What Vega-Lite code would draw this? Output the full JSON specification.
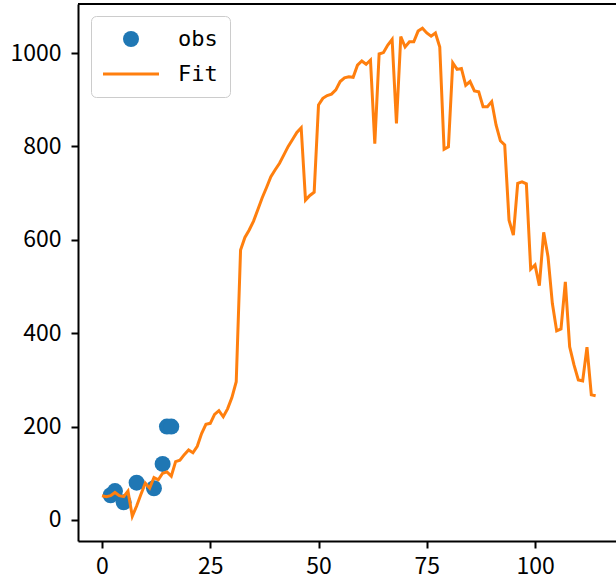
{
  "$schema": "https://vega.github.io/schema/vega-lite/v6.json",
  "width": 538,
  "height": 537,
  "autosize": {"type": "none"},
  "padding": {"left": 78, "top": 4, "right": 0, "bottom": 47},
  "background": "white",
  "config": {
    "view": {"stroke": null},
    "axis": {
      "domainColor": "black",
      "domainWidth": 2,
      "tickColor": "black",
      "tickWidth": 2,
      "tickSize": 7,
      "labelFont": "Noto Sans CJK SC",
      "labelFontSize": 23,
      "labelColor": "black",
      "grid": false,
      "title": null
    }
  },
  "datasets": {
    "obs": [
      {"x": 2, "y": 53, "series": "obs"},
      {"x": 3, "y": 62, "series": "obs"},
      {"x": 5, "y": 38, "series": "obs"},
      {"x": 8, "y": 80, "series": "obs"},
      {"x": 12, "y": 68, "series": "obs"},
      {"x": 14, "y": 120, "series": "obs"},
      {"x": 15, "y": 200, "series": "obs"},
      {"x": 16, "y": 200, "series": "obs"}
    ],
    "fit": [
      {"x": 0, "y": 52}, {"x": 1, "y": 50}, {"x": 2, "y": 52}, {"x": 3, "y": 59}, {"x": 4, "y": 52},
      {"x": 5, "y": 50}, {"x": 6, "y": 62}, {"x": 7, "y": 8}, {"x": 8, "y": 30}, {"x": 9, "y": 55},
      {"x": 10, "y": 79}, {"x": 11, "y": 68}, {"x": 12, "y": 91}, {"x": 13, "y": 86}, {"x": 14, "y": 100},
      {"x": 15, "y": 103}, {"x": 16, "y": 94}, {"x": 17, "y": 125}, {"x": 18, "y": 128}, {"x": 19, "y": 140},
      {"x": 20, "y": 150}, {"x": 21, "y": 144}, {"x": 22, "y": 158}, {"x": 23, "y": 185}, {"x": 24, "y": 205},
      {"x": 25, "y": 207}, {"x": 26, "y": 226}, {"x": 27, "y": 234}, {"x": 28, "y": 221}, {"x": 29, "y": 238},
      {"x": 30, "y": 262}, {"x": 31, "y": 296}, {"x": 32, "y": 578}, {"x": 33, "y": 605}, {"x": 34, "y": 621},
      {"x": 35, "y": 640}, {"x": 36, "y": 665}, {"x": 37, "y": 690}, {"x": 38, "y": 712}, {"x": 39, "y": 735},
      {"x": 40, "y": 750}, {"x": 41, "y": 764}, {"x": 42, "y": 782}, {"x": 43, "y": 800}, {"x": 44, "y": 815},
      {"x": 45, "y": 830}, {"x": 46, "y": 840}, {"x": 47, "y": 685}, {"x": 48, "y": 695}, {"x": 49, "y": 702},
      {"x": 50, "y": 889}, {"x": 51, "y": 903}, {"x": 52, "y": 909}, {"x": 53, "y": 912}, {"x": 54, "y": 921},
      {"x": 55, "y": 939}, {"x": 56, "y": 947}, {"x": 57, "y": 949}, {"x": 58, "y": 948}, {"x": 59, "y": 974},
      {"x": 60, "y": 983}, {"x": 61, "y": 976}, {"x": 62, "y": 985}, {"x": 63, "y": 806}, {"x": 64, "y": 998},
      {"x": 65, "y": 1001}, {"x": 66, "y": 1017}, {"x": 67, "y": 1029}, {"x": 68, "y": 849}, {"x": 69, "y": 1035},
      {"x": 70, "y": 1013}, {"x": 71, "y": 1024}, {"x": 72, "y": 1024}, {"x": 73, "y": 1047}, {"x": 74, "y": 1053},
      {"x": 75, "y": 1043}, {"x": 76, "y": 1036}, {"x": 77, "y": 1043}, {"x": 78, "y": 1013}, {"x": 79, "y": 794},
      {"x": 80, "y": 799}, {"x": 81, "y": 979}, {"x": 82, "y": 965}, {"x": 83, "y": 967}, {"x": 84, "y": 931},
      {"x": 85, "y": 939}, {"x": 86, "y": 919}, {"x": 87, "y": 917}, {"x": 88, "y": 885}, {"x": 89, "y": 885},
      {"x": 90, "y": 896}, {"x": 91, "y": 846}, {"x": 92, "y": 812}, {"x": 93, "y": 803}, {"x": 94, "y": 642},
      {"x": 95, "y": 610}, {"x": 96, "y": 721}, {"x": 97, "y": 724}, {"x": 98, "y": 720}, {"x": 99, "y": 537},
      {"x": 100, "y": 546}, {"x": 101, "y": 502}, {"x": 102, "y": 616}, {"x": 103, "y": 564}, {"x": 104, "y": 464},
      {"x": 105, "y": 405}, {"x": 106, "y": 409}, {"x": 107, "y": 510}, {"x": 108, "y": 371}, {"x": 109, "y": 332},
      {"x": 110, "y": 300}, {"x": 111, "y": 298}, {"x": 112, "y": 370}, {"x": 113, "y": 268}, {"x": 114, "y": 266}
    ]
  },
  "layer": [
    {
      "data": {"name": "obs"},
      "mark": {"type": "point", "filled": true, "opacity": 1, "size": 256},
      "encoding": {
        "x": {"field": "x", "type": "quantitative", "scale": {"domain": [-5.54, 118.7], "nice": false, "zero": false}, "axis": {"values": [0, 25, 50, 75, 100], "labelPadding": 7}},
        "y": {"field": "y", "type": "quantitative", "scale": {"domain": [-45, 1105], "nice": false, "zero": false}, "axis": {"values": [0, 200, 400, 600, 800, 1000], "format": "d", "labelPadding": 10}},
        "color": {
          "field": "series", "type": "nominal",
          "scale": {"domain": ["obs", "Fit"], "range": ["#1f77b4", "#ff7f0e"]},
          "legend": {"orient": "none", "legendX": 13, "legendY": 12, "title": null, "fillColor": "white", "strokeColor": "#cccccc", "cornerRadius": 5, "padding": 12, "symbolSize": 256, "symbolOffset": 17, "labelOffset": 36, "labelFont": "DejaVu Sans Mono", "labelFontSize": 22, "labelColor": "black", "rowPadding": 13, "symbolOpacity": 1, "symbolStrokeWidth": 0}
        },
        "shape": {
          "field": "series", "type": "nominal",
          "scale": {"domain": ["obs", "Fit"], "range": ["circle", "M-3.5,-0.19H3.5V0.19H-3.5Z"]},
          "legend": {"orient": "none", "legendX": 13, "legendY": 12, "title": null, "fillColor": "white", "strokeColor": "#cccccc", "cornerRadius": 5, "padding": 12, "symbolSize": 256, "symbolOffset": 17, "labelOffset": 36, "labelFont": "DejaVu Sans Mono", "labelFontSize": 22, "labelColor": "black", "rowPadding": 13, "symbolOpacity": 1, "symbolStrokeWidth": 0}
        }
      }
    },
    {
      "data": {"name": "fit"},
      "mark": {"type": "line", "color": "#ff7f0e", "strokeWidth": 3},
      "encoding": {
        "x": {"field": "x", "type": "quantitative"},
        "y": {"field": "y", "type": "quantitative"}
      }
    },
    {
      "data": {"values": [{}]},
      "mark": {"type": "rule", "color": "black", "strokeWidth": 2},
      "encoding": {"y": {"datum": 1105}}
    }
  ]
}
